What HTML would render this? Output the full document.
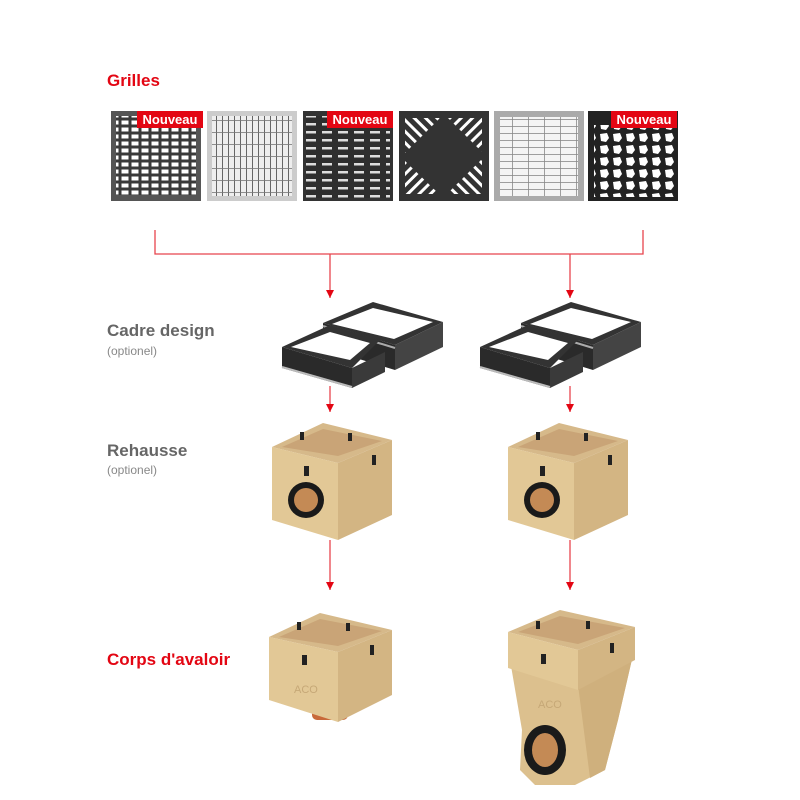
<!DOCTYPE html>
<html><head><meta charset="utf-8"><style>
html,body{margin:0;padding:0;background:#fff}
svg{display:block}
text{font-family:"Liberation Sans",sans-serif;font-weight:bold}
</style></head><body>
<svg width="800" height="800" viewBox="0 0 800 800" xmlns="http://www.w3.org/2000/svg">
<defs>
<marker id="ar" markerWidth="8" markerHeight="8" refX="8" refY="4" orient="auto" markerUnits="userSpaceOnUse">
<path d="M0,0 L8,4 L0,8 z" fill="#e30613"/></marker>
<pattern id="grid1" width="10" height="7" patternUnits="userSpaceOnUse"><rect width="10" height="7" fill="#3a3a3a"/><rect x="1.5" y="1.5" width="7" height="4" fill="#fff"/></pattern>
<pattern id="grid2" width="6" height="12" patternUnits="userSpaceOnUse"><rect width="6" height="12" fill="#eee"/><rect x="0" y="0" width="1" height="12" fill="#666"/><rect y="0" width="6" height="0.8" fill="#777"/></pattern>
<pattern id="grid3" width="16" height="8" patternUnits="userSpaceOnUse"><rect width="16" height="8" fill="#2e2e2e"/><rect x="2" y="3" width="10" height="2.5" fill="#ddd"/></pattern>
<pattern id="diag" width="8" height="8" patternUnits="userSpaceOnUse" patternTransform="rotate(45)"><rect width="8" height="8" fill="#333"/><rect width="3" height="8" fill="#fff"/></pattern>
<pattern id="diag2" width="8" height="8" patternUnits="userSpaceOnUse" patternTransform="rotate(-45)"><rect width="8" height="8" fill="#333"/><rect width="3" height="8" fill="#fff"/></pattern>
<pattern id="grid5" width="16" height="7" patternUnits="userSpaceOnUse"><rect width="16" height="7" fill="#f4f4f4"/><rect width="16" height="0.8" fill="#888"/><rect width="0.8" height="7" fill="#888"/></pattern>
<pattern id="vor" width="13" height="12" patternUnits="userSpaceOnUse"><rect width="13" height="12" fill="#222"/><polygon points="2,2 9,1 11,6 8,10 3,9" fill="#fff"/></pattern>
</defs>

<text x="107" y="86" font-size="17" fill="#e30613">Grilles</text>

<rect x="111" y="111" width="90" height="90" fill="#555"/><rect x="116" y="116" width="80" height="79" fill="url(#grid1)"/>
<rect x="207" y="111" width="90" height="90" fill="#ccc"/><rect x="212" y="116" width="80" height="80" fill="url(#grid2)"/>
<rect x="303" y="111" width="90" height="90" fill="#333"/><rect x="306" y="116" width="84" height="82" fill="url(#grid3)"/>
<rect x="399" y="111" width="90" height="90" fill="#333"/>
<polygon points="405,118 440,118 405,153" fill="url(#diag2)"/><polygon points="482,194 447,194 482,159" fill="url(#diag2)"/>
<polygon points="448,118 482,118 482,152" fill="url(#diag)"/><polygon points="405,161 405,194 439,194" fill="url(#diag)"/>
<rect x="494" y="111" width="90" height="90" fill="#aaa"/><rect x="500" y="117" width="78" height="79" fill="url(#grid5)"/>
<rect x="588" y="111" width="90" height="90" fill="#222"/><rect x="594" y="125" width="80" height="72" fill="url(#vor)"/>

<rect x="137" y="111" width="66" height="17" fill="#e30613"/><text x="170" y="124" font-size="13" fill="#fff" text-anchor="middle">Nouveau</text>
<rect x="327" y="111" width="66" height="17" fill="#e30613"/><text x="360" y="124" font-size="13" fill="#fff" text-anchor="middle">Nouveau</text>
<rect x="611" y="111" width="66" height="17" fill="#e30613"/><text x="644" y="124" font-size="13" fill="#fff" text-anchor="middle">Nouveau</text>

<g stroke="#e8454d" stroke-width="1.3" fill="none">
<polyline points="155,230 155,254 643,254 643,230"/>
<line x1="330" y1="254" x2="330" y2="298" marker-end="url(#ar)"/>
<line x1="570" y1="254" x2="570" y2="298" marker-end="url(#ar)"/>
<line x1="330" y1="386" x2="330" y2="412" marker-end="url(#ar)"/>
<line x1="570" y1="386" x2="570" y2="412" marker-end="url(#ar)"/>
<line x1="330" y1="540" x2="330" y2="590" marker-end="url(#ar)"/>
<line x1="570" y1="540" x2="570" y2="590" marker-end="url(#ar)"/>
</g>

<text x="107" y="336" font-size="17" fill="#666">Cadre design</text>
<text x="107" y="355" font-size="12" fill="#888" style="font-weight:normal">(optionel)</text>
<text x="107" y="456" font-size="17" fill="#666">Rehausse</text>
<text x="107" y="474" font-size="12" fill="#888" style="font-weight:normal">(optionel)</text>
<text x="107" y="665" font-size="17" fill="#e30613">Corps d'avaloir</text>

<g id="fr">
<polygon points="323,323 373,302 443,322 395,345" fill="#333"/>
<polygon points="332,324 373,308 433,322 394,339" fill="#fff"/>
<polygon points="323,323 395,345 395,370 323,348" fill="#2a2a2a"/>
<polygon points="395,345 443,322 443,347 395,370" fill="#444"/>
<line x1="323" y1="326" x2="395" y2="348" stroke="#aaa" stroke-width="2"/>
<polygon points="282,347 330,325 380,340 352,368" fill="#333"/>
<polygon points="291,347 330,332 370,343 350,360" fill="#fff"/>
<polygon points="282,347 352,368 352,388 282,368" fill="#2a2a2a"/>
<polygon points="352,368 385,352 385,372 352,388" fill="#3a3a3a"/>
<line x1="282" y1="367" x2="352" y2="387" stroke="#bbb" stroke-width="2"/>
</g>
<use href="#fr" x="198"/>

<g id="box">
<polygon points="272,447 323,423 392,440 338,463" fill="#d6b98a"/>
<polygon points="282,447 323,429 382,441 338,456" fill="#c9a477"/>
<polygon points="272,447 338,463 338,540 272,520" fill="#e2c896"/>
<polygon points="338,463 392,440 392,515 338,540" fill="#d3b583"/>
<rect x="304" y="466" width="5" height="10" fill="#222"/><rect x="372" y="455" width="4" height="10" fill="#222"/>
<rect x="300" y="432" width="4" height="8" fill="#222"/><rect x="348" y="433" width="4" height="8" fill="#222"/>
</g>
<circle cx="306" cy="500" r="18" fill="#1a1a1a"/><circle cx="306" cy="500" r="12" fill="#c48a55"/>
<use href="#box" x="236"/>
<circle cx="542" cy="500" r="18" fill="#1a1a1a"/><circle cx="542" cy="500" r="12" fill="#c48a55"/>

<!-- corps left -->
<rect x="312" y="702" width="36" height="18" rx="5" fill="#c8693a"/>
<polygon points="269,637 320,613 392,630 338,652" fill="#d6b98a"/>
<polygon points="279,637 320,619 382,631 338,646" fill="#c9a477"/>
<polygon points="269,637 338,652 338,722 269,700" fill="#e2c896"/>
<polygon points="338,652 392,630 392,695 338,722" fill="#d3b583"/>
<rect x="302" y="655" width="5" height="10" fill="#222"/><rect x="370" y="645" width="4" height="10" fill="#222"/>
<rect x="297" y="622" width="4" height="8" fill="#222"/><rect x="346" y="623" width="4" height="8" fill="#222"/>
<text x="294" y="693" font-size="11" fill="#c6a877" style="font-weight:normal">ACO</text>

<!-- corps right -->
<polygon points="510,660 578,685 633,655 618,720 605,770 575,785 535,785 520,770 522,730" fill="#dcc08e"/>
<polygon points="578,685 633,655 618,720 605,770 590,778" fill="#cfb07d"/>
<polygon points="508,632 560,610 635,627 578,650" fill="#d6b98a"/>
<polygon points="518,632 560,616 625,628 578,644" fill="#c9a477"/>
<polygon points="508,632 578,650 578,690 508,668" fill="#e2c896"/>
<polygon points="578,650 635,627 635,660 578,690" fill="#d3b583"/>
<rect x="541" y="654" width="5" height="10" fill="#222"/><rect x="610" y="643" width="4" height="10" fill="#222"/>
<rect x="536" y="621" width="4" height="8" fill="#222"/><rect x="586" y="621" width="4" height="8" fill="#222"/>
<ellipse cx="545" cy="750" rx="21" ry="25" fill="#1a1a1a"/><ellipse cx="545" cy="750" rx="13" ry="17" fill="#c48a55"/>
<text x="538" y="708" font-size="11" fill="#c6a877" style="font-weight:normal">ACO</text>
</svg>
</body></html>
